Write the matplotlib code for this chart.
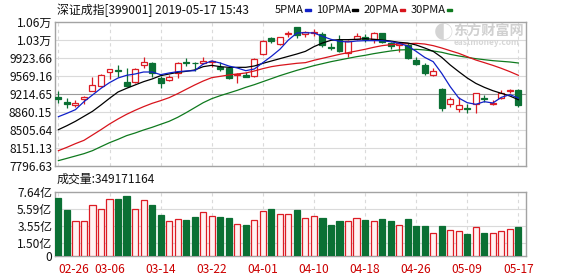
import matplotlib
matplotlib.use("Agg")
import matplotlib.pyplot as plt
import numpy as np

plt.rcParams['font.family'] = ['Noto Sans CJK SC', 'DejaVu Sans']

RED = "#dc1c24"; GREEN = "#0b7034"; FRAME = "#a3a3a3"; GRID = "#dadada"; LBL = "#cc0000"
W, H = 578, 276

# daily candles (index points)
opens = [9159, 9061, 8989, 9107, 9277, 9375, 9651, 9677, 9454, 9441, 9782, 9815, 9533, 9487,
         9618, 9847, 9828, 9815, 9841, 9749, 9723, 9585, 9585, 9566, 9991, 10306, 10194, 10384,
         10522, 10391, 10404, 10398, 10142, 10273, 10024, 10286, 10339, 10286, 10404, 10208,
         10175, 10175, 9873, 9782, 9585, 9304, 9015, 8910, 8930, 9015, 9127, 9009, 9140, 9271, 9290]
highs = [9270, 9127, 9094, 9179, 9552, 9605, 9710, 9782, 9716, 9716, 9932, 9847, 9566, 9585,
         9841, 9919, 9847, 9932, 9880, 9847, 9762, 9618, 9651, 9913, 10273, 10339, 10339, 10456,
         10535, 10456, 10483, 10437, 10208, 10371, 10273, 10404, 10384, 10424, 10417, 10240,
         10227, 10208, 9932, 9815, 9716, 9323, 9159, 9159, 9015, 9238, 9192, 9094, 9290, 9304, 9304]
lows = [9028, 8930, 8963, 9015, 9270, 9343, 9507, 9552, 9356, 9434, 9716, 9552, 9323, 9474,
        9520, 9762, 9670, 9802, 9749, 9670, 9500, 9434, 9539, 9552, 9978, 10221, 10175, 10339,
        10306, 10326, 10352, 10142, 10077, 10044, 9932, 10273, 10240, 10208, 10208, 10090,
        10044, 9893, 9775, 9585, 9572, 8884, 8950, 8865, 8845, 8832, 9055, 8989, 9120, 9225, 8950]
closes = [9107, 9009, 9028, 9146, 9382, 9579, 9697, 9657, 9375, 9697, 9841, 9631, 9421, 9552,
          9828, 9828, 9815, 9860, 9860, 9710, 9533, 9605, 9552, 9893, 10260, 10260, 10326, 10417,
          10371, 10430, 10424, 10175, 10122, 10063, 10260, 10352, 10293, 10417, 10240, 10162,
          10208, 9913, 9801, 9631, 9664, 8930, 9107, 8989, 8910, 9225, 9107, 9035, 9238, 9290, 8996]

ma5 = [8766, 8832, 8904, 9061, 9192, 9323, 9435, 9526, 9579, 9605, 9644, 9644, 9592, 9625,
       9651, 9664, 9670, 9801, 9860, 9821, 9762, 9723, 9670, 9703, 9828, 9952, 10090, 10273,
       10411, 10417, 10411, 10345, 10286, 10247, 10234, 10253, 10260, 10260, 10260, 10240,
       10208, 10155, 10050, 9932, 9847, 9618, 9356, 9133, 9041, 9009, 9061, 9035, 9146, 9199, 9133]
ma10 = [8511, 8589, 8675, 8773, 8871, 8996, 9127, 9251, 9323, 9389, 9454, 9507, 9572, 9605,
        9638, 9657, 9684, 9749, 9775, 9749, 9736, 9736, 9736, 9762, 9814, 9860, 9906, 9952,
        9998, 10050, 10142, 10214, 10267, 10280, 10280, 10286, 10299, 10286, 10273, 10253,
        10227, 10214, 10175, 10116, 10050, 9932, 9782, 9651, 9526, 9421, 9343, 9277, 9225, 9172, 9100]
ma20 = [8098, 8164, 8236, 8301, 8406, 8511, 8622, 8721, 8812, 8891, 8963, 9028, 9081, 9140,
        9218, 9304, 9389, 9467, 9533, 9559, 9585, 9605, 9625, 9664, 9710, 9749, 9775, 9795,
        9815, 9828, 9874, 9913, 9952, 9991, 10024, 10057, 10090, 10129, 10162, 10181,
        10194, 10201, 10208, 10194, 10162, 10116, 10063, 10011, 9945, 9880, 9828, 9775, 9716, 9651, 9579]
ma30 = [7902, 7947, 7993, 8039, 8098, 8177, 8255, 8321, 8393, 8445, 8504, 8557, 8616, 8675,
        8753, 8845, 8943, 9041, 9120, 9179, 9231, 9284, 9343, 9395, 9454, 9513, 9572, 9625,
        9677, 9723, 9769, 9808, 9847, 9880, 9913, 9945, 9972, 10004, 10031, 10057,
        10077, 10083, 10090, 10077, 10057, 10031, 9991, 9959, 9932, 9906, 9886, 9867, 9854, 9841, 9821]

# volume, 亿
volume = [6.85, 5.47, 4.2, 4.1, 6.08, 5.56, 6.8, 6.8, 7.1, 5.56, 6.6, 6.1, 4.85, 4.2,
          4.44, 4.33, 4.6, 5.23, 4.73, 4.6, 4.46, 3.83, 3.7, 4.31, 5.35, 5.58, 4.94, 5.03,
          5.47, 4.48, 4.73, 4.48, 3.73, 4.1, 4.1, 4.56, 4.22, 4.1, 4.35, 4.14,
          3.73, 4.35, 3.52, 3.6, 2.73, 3.6, 3.1, 2.98, 2.6, 3.43, 2.73, 2.73, 2.98, 3.23, 3.49]
last_volume = 349171164

date_ticks = [0, 6, 12, 18, 24, 30, 36, 42, 48, 54]
date_labels = ["02-26", "03-06", "03-14", "03-22", "04-01", "04-10", "04-18", "04-26", "05-09", "05-17"]
price_ticks = [7796.63, 8151.13, 8505.64, 8860.15, 9214.65, 9569.16, 9923.66, 10278.17, 10632.67]
price_labels = ["7796.63", "8151.13", "8505.64", "8860.15", "9214.65", "9569.16", "9923.66", "1.03万", "1.06万"]
vol_ticks = [0, 1.50, 3.55, 5.59, 7.64]
vol_labels = ["0", "1.50亿", "3.55亿", "5.59亿", "7.64亿"]
ma_names = ["5PMA", "10PMA", "20PMA", "30PMA"]
ma_colors = ["#1020c8", "black", "#d8141c", "#0f7a1e"]


def rect(l, t, r, b):
    return [l / W, 1 - b / H, (r - l) / W, (b - t) / H]


fig = plt.figure(figsize=(W / 100, H / 100), dpi=100)
ax = fig.add_axes(rect(55, 21.7, 525.7, 166))
axv = fig.add_axes(rect(55, 191.7, 525.7, 256))

x = np.arange(len(opens))
o = np.array(opens); c = np.array(closes)
up = c >= o
cols = np.where(up, RED, GREEN)

for a in (ax, axv):
    for s in a.spines.values():
        s.set_color(FRAME); s.set_linewidth(1)
    a.set_xlim(-0.4, 54.86)
    a.tick_params(length=0, labelsize=8.6, pad=2, colors="#111111")
    for t in date_ticks:
        a.axvline(t, color=GRID, lw=0.8, ls=(0, (3, 3)), zorder=0)

# price panel
ax.set_ylim(price_ticks[0], price_ticks[-1])
ax.set_yticks(price_ticks); ax.set_yticklabels(price_labels)
ax.set_xticks([])
for i, t in enumerate(price_ticks[1:-1]):
    ax.axhline(t, color="#9a9a9a" if price_labels[i + 1] == "9214.65" else GRID, lw=0.8, zorder=0)

ax.vlines(x, lows, highs, colors=cols, lw=0.9, zorder=2)
body = np.maximum(np.abs(c - o), 14)
ax.bar(x, body, 0.7, bottom=np.minimum(o, c), color=np.where(up, "white", GREEN),
       edgecolor=cols, lw=0.9, zorder=3)

for ma, col in zip([ma30, ma20, ma10, ma5], ma_colors[::-1]):
    ax.plot(x, ma, color=col, lw=0.9, zorder=4)

# volume panel
axv.set_ylim(0, 7.64)
axv.set_yticks(vol_ticks); axv.set_yticklabels(vol_labels)
for t in vol_ticks[1:-1]:
    axv.axhline(t, color=GRID, lw=0.8, zorder=0)
axv.bar(x, volume, 0.72, color=np.where(up, "#fff2f2", GREEN), edgecolor=cols, lw=0.9, zorder=3)
axv.set_xticks(date_ticks)
axv.set_xticklabels(date_labels, color=LBL)
axv.tick_params(axis="x", pad=5)
axv.get_xticklabels()[0].set_horizontalalignment("left")
axv.get_xticklabels()[0].set_x(-0.2)


# header texts
def ftxt(px, py, s, **kw):
    return fig.text(px / W, 1 - py / H, s, va="center", **kw)


ftxt(57, 10, "深证成指[399001] 2019-05-17 15:43", fontsize=8.6, color="#111111")
rend = fig.canvas.get_renderer()
tx = 275
for name, col in zip(ma_names, ma_colors):
    t = ftxt(tx, 10, name, fontsize=8.0, color="#111111")
    right = t.get_window_extent(rend).x1
    dx = right + 1.5
    fig.patches.append(plt.Rectangle((dx / W, 1 - 11.4 / H), 5.6 / W, 2.8 / H,
                                     transform=fig.transFigure, color=col))
    tx = dx + 5.6 + 5
ftxt(57, 179.5, f"成交量:{last_volume}", fontsize=8.6, color="#111111")

# watermark
ftxt(453, 30.5, "东方财富网", fontsize=10.2, color="#d0d0d0", fontweight="bold")
ftxt(454, 42.5, "eastmoney.com", fontsize=6, color="#d6d6d6", fontweight="bold")
ftxt(434, 33, "◐", fontsize=14, color="#d4d4d4")

fig.savefig("out.png", dpi=100)
